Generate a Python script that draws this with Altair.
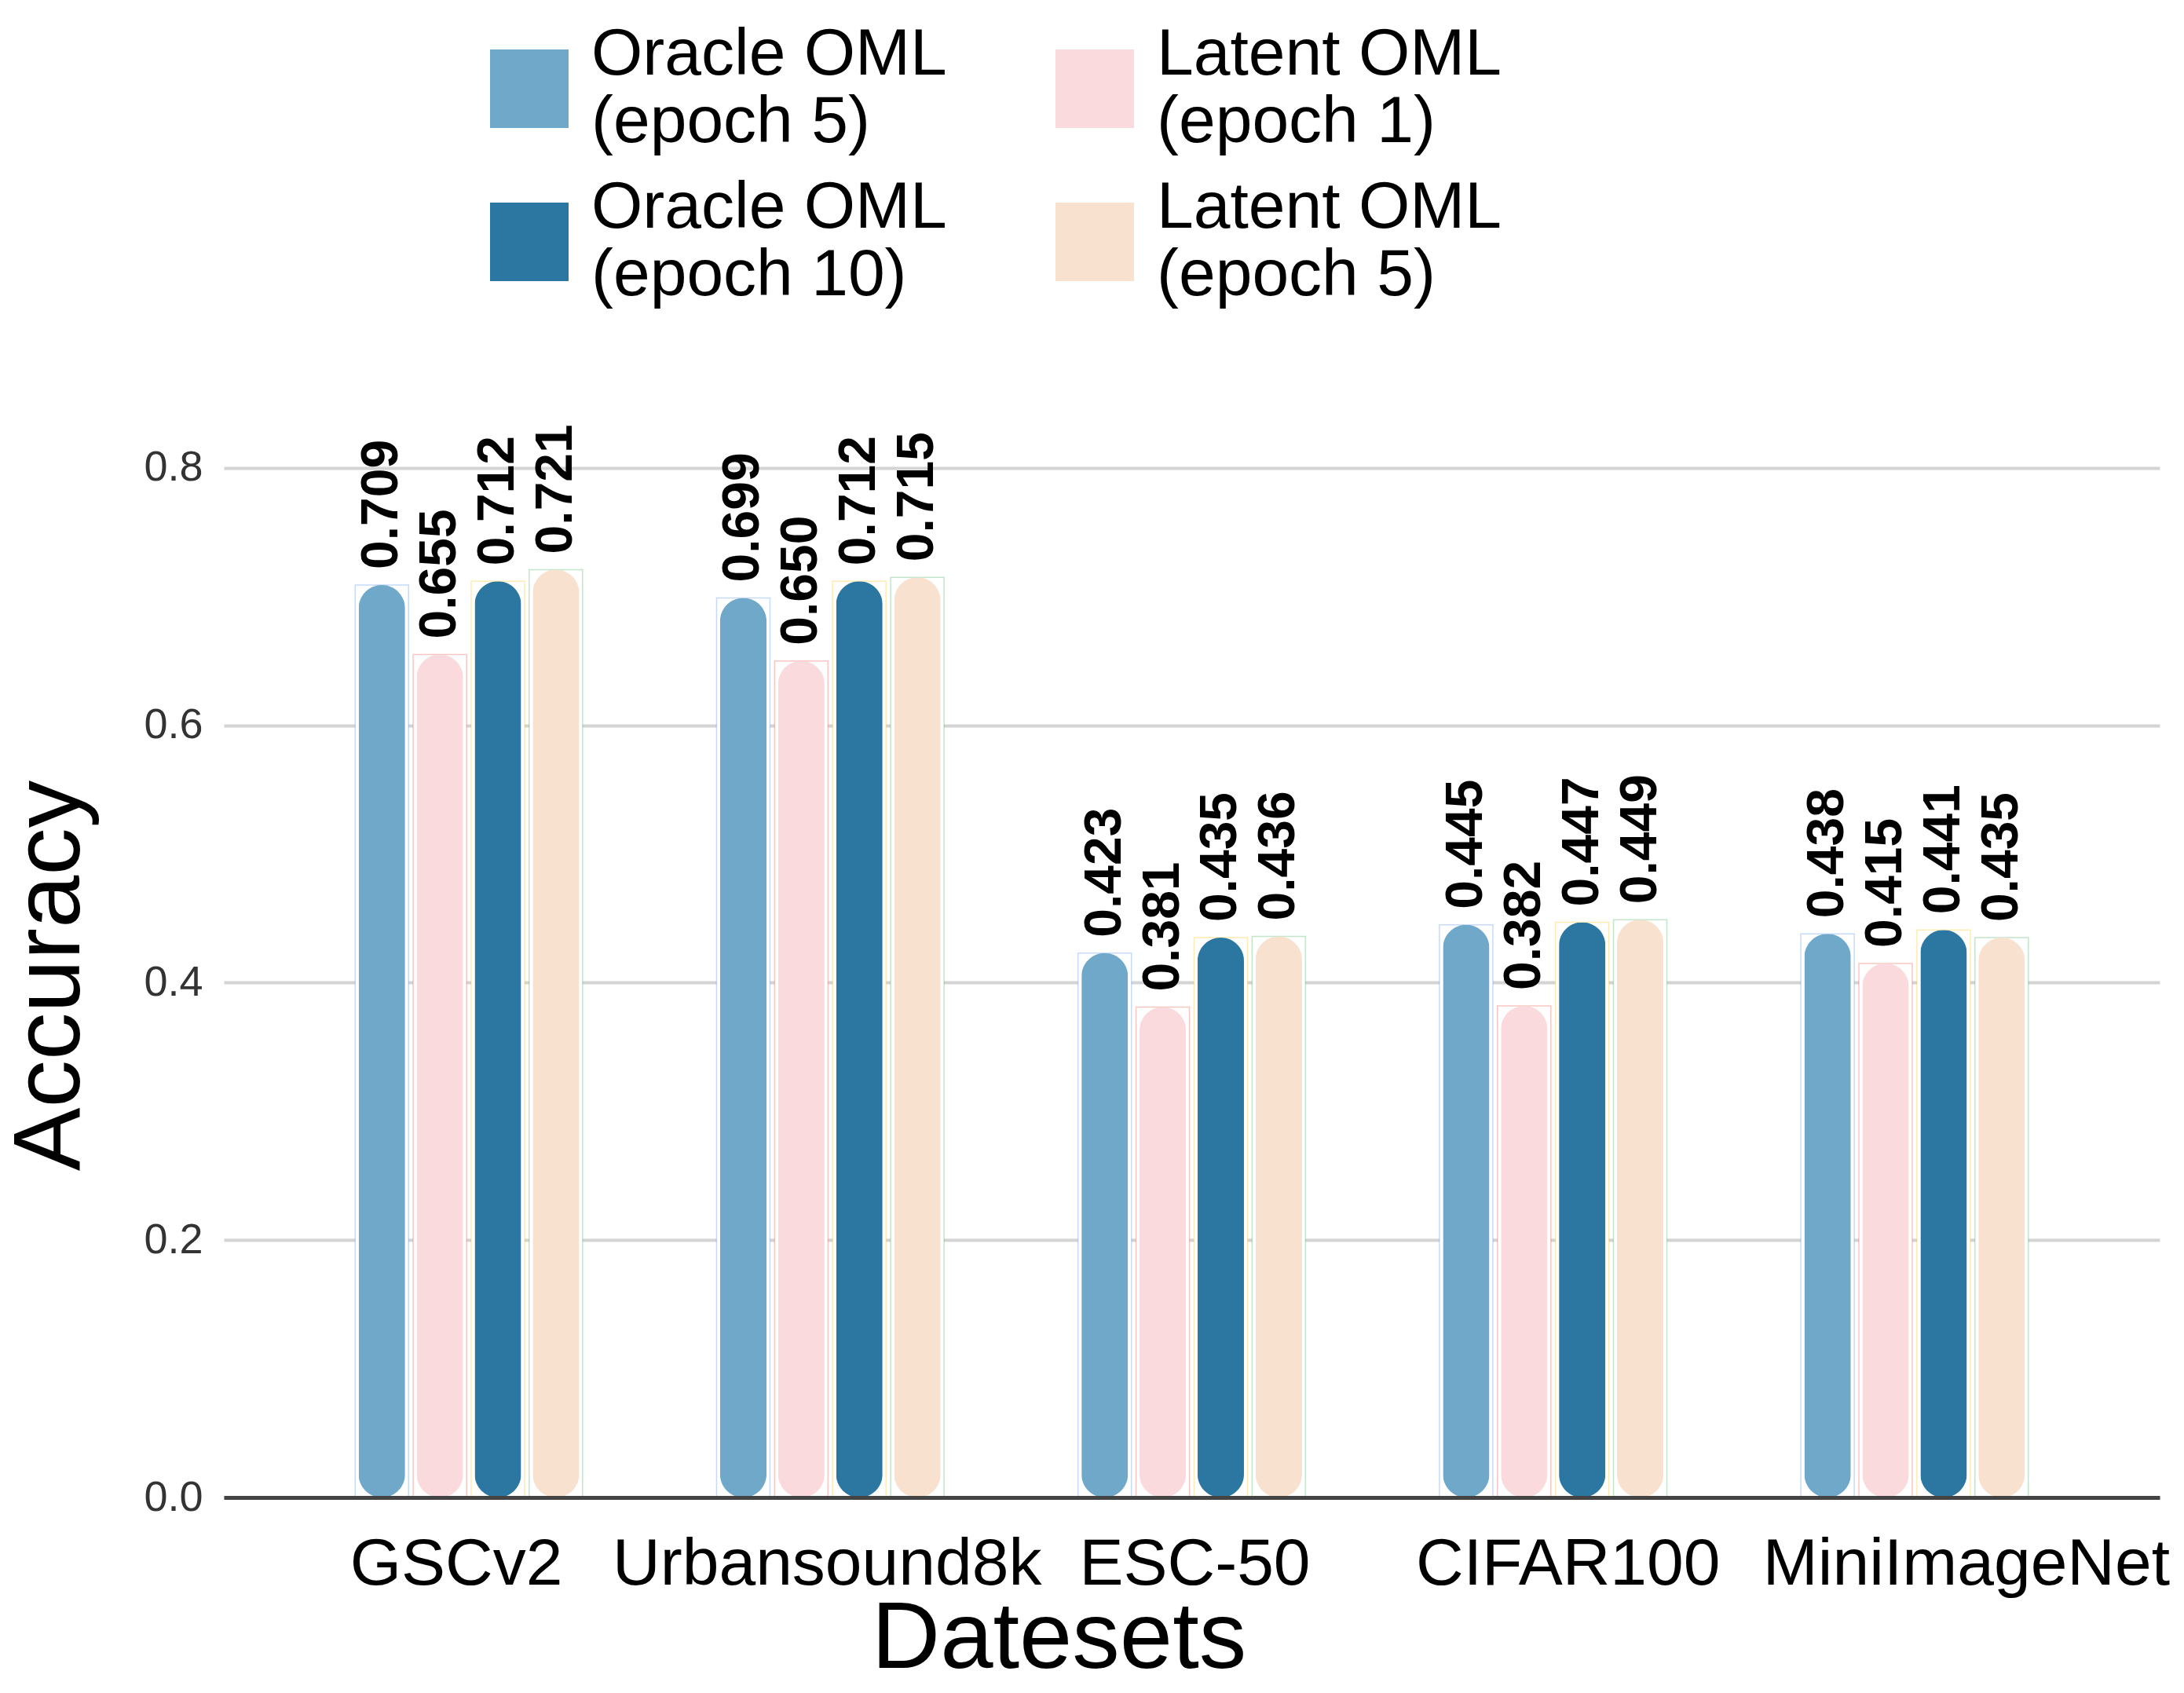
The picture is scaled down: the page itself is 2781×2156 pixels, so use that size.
import altair as alt
import pandas as pd

datasets = ["GSCv2", "Urbansound8k", "ESC-50", "CIFAR100", "MiniImageNet"]
series = ["Oracle OML (epoch 5)", "Latent OML (epoch 1)", "Oracle OML (epoch 10)", "Latent OML (epoch 5)"]
oracle_e5 = [0.709, 0.699, 0.423, 0.445, 0.438]
latent_e1 = [0.655, 0.650, 0.381, 0.382, 0.415]
oracle_e10 = [0.712, 0.712, 0.435, 0.447, 0.441]
latent_e5 = [0.721, 0.715, 0.436, 0.449, 0.435]
colors = ["#6FA8C9", "#FADADD", "#2C77A1", "#F9E1D0"]
edge_keys = ["edge-a", "edge-b", "edge-c", "edge-d"]
edge_colors = ["#4285F4", "#EA4335", "#FBBC04", "#34A853"]
y_ticks = [0.0, 0.2, 0.4, 0.6, 0.8]

values_by_series = [oracle_e5, latent_e1, oracle_e10, latent_e5]
rows = []
for s, e, vals in zip(series, edge_keys, values_by_series):
    for d, v in zip(datasets, vals):
        rows.append({"dataset": d, "series": s, "edge": e, "value": v, "label": f"{v:.3f}"})
df = pd.DataFrame(rows)

FONT = "Liberation Sans"

x_enc = alt.X(
    "dataset:N",
    sort=datasets,
    scale=alt.Scale(paddingInner=0.39, paddingOuter=0.373),
    axis=alt.Axis(
        title="Datesets",
        titleFontSize=121,
        titleFont=FONT,
        titleFontWeight="normal",
        titleColor="black",
        titleX=1063,
        titleY=216,
        titleAlign="center",
        titleBaseline="alphabetic",
        labelFontSize=84,
        labelFont=FONT,
        labelColor="black",
        labelAngle=0,
        labelPadding=44,
        labelLimit=2000,
        labelOverlap=False,
        labelOffset={
            "condition": [
                {"test": "datum.value == 'GSCv2'", "value": -16},
                {"test": "datum.value == 'Urbansound8k'", "value": -4},
                {"test": "datum.value == 'ESC-50'", "value": 4},
                {"test": "datum.value == 'CIFAR100'", "value": 19},
                {"test": "datum.value == 'MiniImageNet'", "value": 66},
            ],
            "value": 0,
        },
        ticks=False,
        domain=True,
        domainColor="#444444",
        domainWidth=5,
        grid=False,
        zindex=1,
    ),
)
xoff_enc = alt.XOffset("series:N", sort=series, scale=alt.Scale(paddingInner=0.2, paddingOuter=0))
y_enc = alt.Y(
    "value:Q",
    scale=alt.Scale(domain=[0, 0.85], nice=False, zero=True),
    axis=alt.Axis(
        title="Accuracy",
        titleFontSize=121,
        titleFont=FONT,
        titleFontWeight="normal",
        titleColor="black",
        titleX=-185,
        titleY=728,
        titleAlign="center",
        titleBaseline="alphabetic",
        values=y_ticks,
        format=".1f",
        labelFontSize=54,
        labelFont=FONT,
        labelColor="#333333",
        labelPadding=27,
        ticks=False,
        domain=False,
        grid=True,
        gridColor="#d4d4d4",
        gridWidth=4,
    ),
)

base = alt.Chart(df).encode(x=x_enc, xOffset=xoff_enc, y=y_enc)

bg = base.mark_bar(
    fill="white", strokeWidth=1.5, strokeOpacity=0.3, width=68
).encode(
    stroke=alt.Stroke("edge:N", sort=edge_keys, scale=alt.Scale(domain=edge_keys, range=edge_colors), legend=None)
)

bars = base.mark_bar(
    cornerRadius=30
).encode(
    color=alt.Color(
        "series:N",
        sort=series,
        scale=alt.Scale(domain=series, range=colors),
        legend=alt.Legend(
            title=None,
            orient="none",
            direction="horizontal",
            legendX=339,
            legendY=-451,
            columns=2,
            padding=0,
            symbolType="square",
            symbolSize=10000,
            symbolStrokeWidth=0,
            labelFontSize=84,
            labelFont=FONT,
            labelColor="black",
            labelBaseline="bottom",
            labelOffset=29,
            labelLimit=2000,
            columnPadding=138,
            rowPadding=25,
            labelExpr="[slice(datum.label, 0, 10), slice(datum.label, 11)]",
        ),
    )
)

text = base.mark_text(
    angle=270, align="left", baseline="middle", dx=20,
    font=FONT, fontWeight="bold", fontSize=66, color="black"
).encode(text="label:N")

chart = alt.layer(bg, bars, text).properties(
    width=2465,
    height=1393,
    padding={"left": 277, "top": 506, "right": 23, "bottom": 233},
    autosize=alt.AutoSizeParams(type="none"),
).configure(background="white", view=alt.ViewConfig(stroke=None))

chart.save("out.html", embed_options={"renderer": "svg", "actions": False})
